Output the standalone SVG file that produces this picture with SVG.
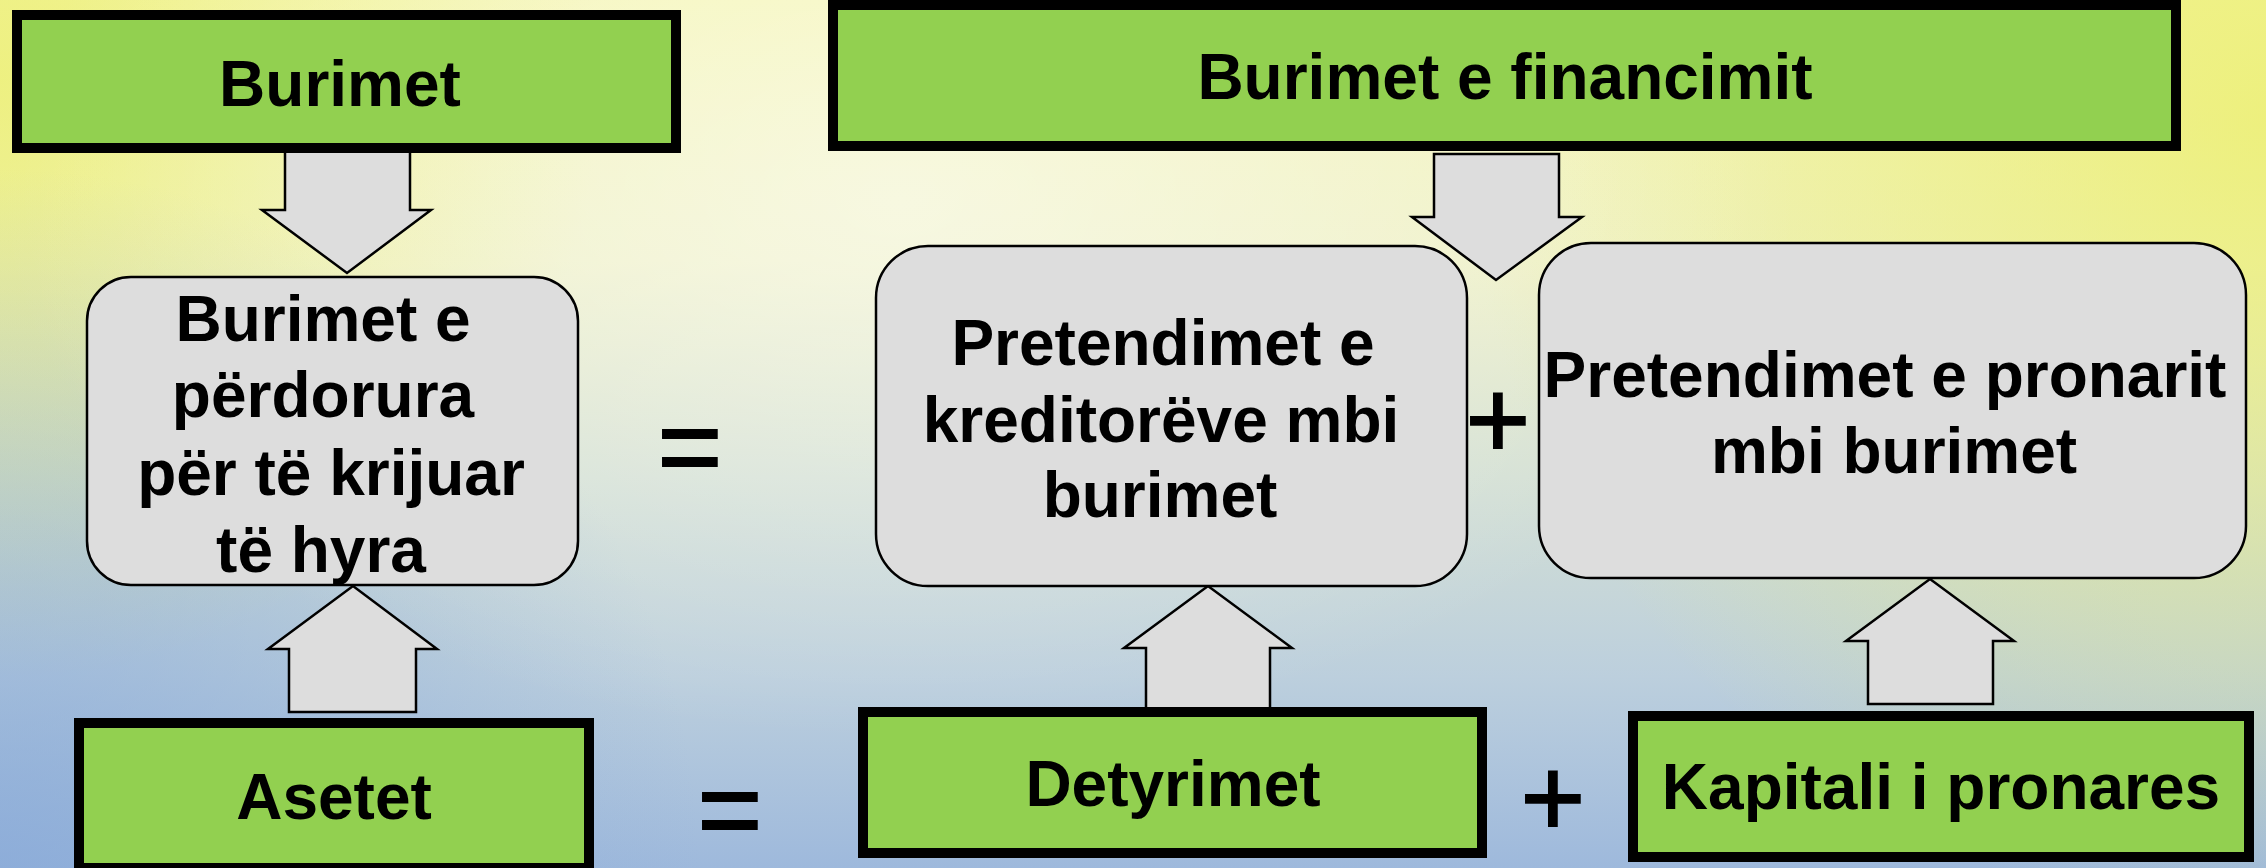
<svg xmlns="http://www.w3.org/2000/svg" width="2266" height="868" viewBox="0 0 2266 868">
  <defs>
    <linearGradient id="bg" x1="0" y1="0" x2="0" y2="1">
      <stop offset="0" stop-color="#f4f5b4"/>
      <stop offset="0.3" stop-color="#eef0c6"/>
      <stop offset="0.55" stop-color="#d4e0d4"/>
      <stop offset="0.78" stop-color="#bccfdd"/>
      <stop offset="1" stop-color="#9eb9dc"/>
    </linearGradient>
    <radialGradient id="hl" cx="900" cy="200" r="900" gradientUnits="userSpaceOnUse" gradientTransform="translate(900 200) scale(1 0.6) translate(-900 -200)">
      <stop offset="0" stop-color="#ffffff" stop-opacity="0.5"/>
      <stop offset="1" stop-color="#ffffff" stop-opacity="0"/>
    </radialGradient>
    <radialGradient id="yl" cx="0" cy="80" r="600" gradientUnits="userSpaceOnUse">
      <stop offset="0" stop-color="#ecef6e" stop-opacity="0.75"/>
      <stop offset="1" stop-color="#ecef6e" stop-opacity="0"/>
    </radialGradient>
    <radialGradient id="yr" cx="2266" cy="120" r="800" gradientUnits="userSpaceOnUse">
      <stop offset="0" stop-color="#ecef6e" stop-opacity="0.8"/>
      <stop offset="1" stop-color="#ecef6e" stop-opacity="0"/>
    </radialGradient>
    <radialGradient id="bl" cx="0" cy="868" r="700" gradientUnits="userSpaceOnUse">
      <stop offset="0" stop-color="#86a8d8" stop-opacity="0.7"/>
      <stop offset="1" stop-color="#86a8d8" stop-opacity="0"/>
    </radialGradient>
    <style>
      .green { fill: #92d050; stroke: #000000; stroke-width: 10; }
      .grey { fill: #dddddd; stroke: #000000; stroke-width: 2.5; }
      .arrow { fill: #dddddd; stroke: #000000; stroke-width: 2.5; stroke-linejoin: miter; }
      .t { font-family: "Liberation Sans", Arial, sans-serif; font-weight: bold; font-size: 64px; fill: #000000; text-anchor: middle; }
      .op { font-family: "Liberation Sans", Arial, sans-serif; font-weight: normal; font-size: 111px; fill: #000000; stroke: #000000; stroke-width: 1.8; text-anchor: middle; }
    </style>
  </defs>

  <rect x="0" y="0" width="2266" height="868" fill="url(#bg)"/>
  <rect x="0" y="0" width="2266" height="868" fill="url(#yl)"/>
  <rect x="0" y="0" width="2266" height="868" fill="url(#yr)"/>
  <rect x="0" y="0" width="2266" height="868" fill="url(#bl)"/>
  <rect x="0" y="0" width="2266" height="868" fill="url(#hl)"/>

  <g id="connectors">
    <polygon class="arrow" points="285,149 410,149 410,210 431,210 347,273 262,210 285,210"/>
    <polygon class="arrow" points="1434,154 1559,154 1559,217 1582,217 1496,280 1412,217 1434,217"/>
    <polygon class="arrow" points="289,712 416,712 416,649 437,649 353,586 268,649 289,649"/>
    <polygon class="arrow" points="1146,709 1270,709 1270,648 1292,648 1208,586 1124,648 1146,648"/>
    <polygon class="arrow" points="1868,704 1993,704 1993,641 2014,641 1930,579 1846,641 1868,641"/>
  </g>

  <g id="operators">
    <text id="plus-mid" class="op" x="1498" y="458">+</text>
    <text id="eq-mid" class="op" x="690" y="485">=</text>
    <text id="eq-bottom" class="op" x="730" y="848">=</text>
    <text id="plus-bottom" class="op" x="1553" y="836">+</text>
  </g>

  <g id="node-burimet">
    <rect class="green" x="17" y="15" width="659" height="133"/>
    <text class="t" x="340" y="106">Burimet</text>
  </g>

  <g id="node-financimit">
    <rect class="green" x="833" y="5" width="1343" height="141"/>
    <text class="t" x="1505" y="99">Burimet e financimit</text>
  </g>

  <g id="node-burimet-perdorura">
    <rect class="grey" x="87" y="277" width="491" height="308" rx="44" ry="44"/>
    <text class="t" x="323" y="341">Burimet e</text>
    <text class="t" x="323" y="417">përdorura</text>
    <text class="t" x="331" y="495">për të krijuar</text>
    <text class="t" x="321" y="572">të hyra</text>
  </g>

  <g id="node-pretendimet-kreditoreve">
    <rect class="grey" x="876" y="246" width="591" height="340" rx="52" ry="52"/>
    <text class="t" x="1163" y="365">Pretendimet e</text>
    <text class="t" x="1161" y="442">kreditorëve mbi</text>
    <text class="t" x="1160" y="517">burimet</text>
  </g>

  <g id="node-pretendimet-pronarit">
    <rect class="grey" x="1539" y="243" width="707" height="335" rx="52" ry="52"/>
    <text class="t" x="1885" y="397">Pretendimet e pronarit</text>
    <text class="t" x="1894" y="473">mbi burimet</text>
  </g>

  <g id="node-asetet">
    <rect class="green" x="79" y="723" width="510" height="145"/>
    <text class="t" x="334" y="819">Asetet</text>
  </g>

  <g id="node-detyrimet">
    <rect class="green" x="863" y="712" width="619" height="141"/>
    <text class="t" x="1173" y="806">Detyrimet</text>
  </g>

  <g id="node-kapitali">
    <rect class="green" x="1633" y="716" width="616" height="141"/>
    <text class="t" x="1941" y="809">Kapitali i pronares</text>
  </g>
</svg>
